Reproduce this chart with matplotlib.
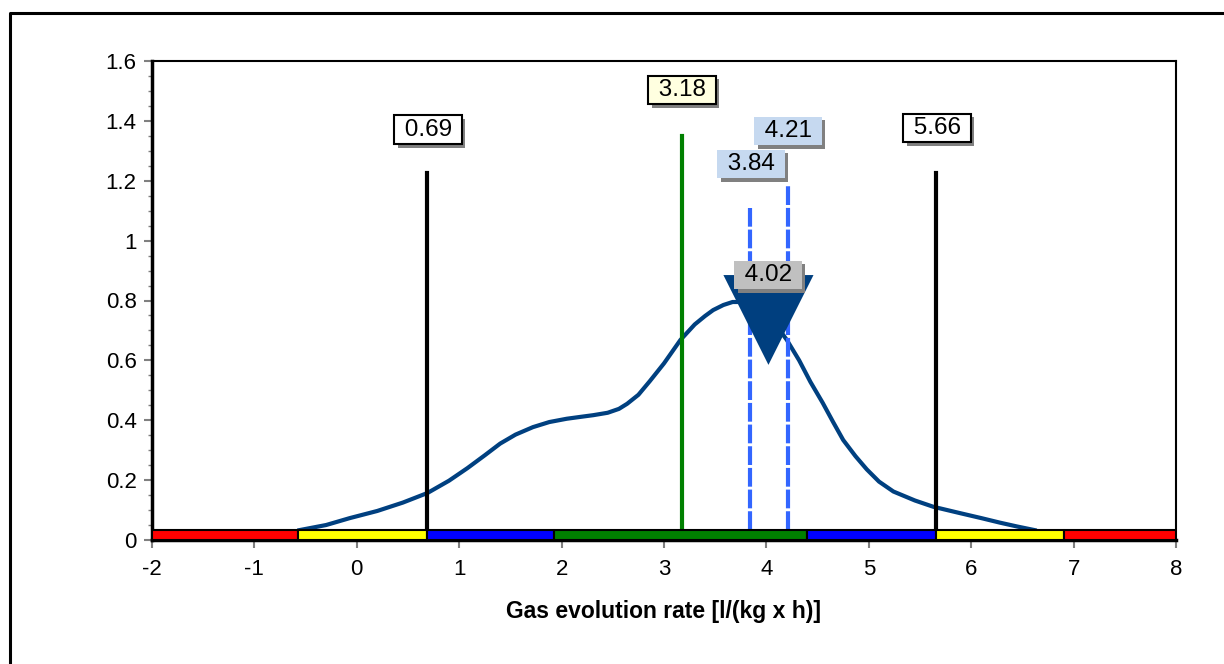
import matplotlib

matplotlib.use("Agg")
import matplotlib.pyplot as plt
from matplotlib import patheffects as pe
from matplotlib.lines import Line2D
from matplotlib.ticker import MultipleLocator

plt.rcParams["font.family"] = ["Liberation Sans", "DejaVu Sans"]
plt.rcParams["axes.unicode_minus"] = False

# density curve
curve_x = [-0.56, -0.3, -0.07, 0.2, 0.45, 0.69, 0.9, 1.08, 1.25, 1.40, 1.55,
           1.72, 1.88, 2.05, 2.2, 2.31, 2.45, 2.56, 2.64, 2.75, 2.86, 3.0,
           3.16, 3.3, 3.4, 3.48, 3.58, 3.67, 3.76, 3.85, 3.95, 4.08, 4.2,
           4.32, 4.43, 4.55, 4.65, 4.75, 4.87, 4.98, 5.1, 5.24, 5.45, 5.63,
           5.9, 6.1, 6.28, 6.45, 6.62]
curve_y = [0.033, 0.05, 0.073, 0.097, 0.125, 0.157, 0.198, 0.24, 0.283,
           0.322, 0.352, 0.377, 0.394, 0.405, 0.412, 0.417, 0.425, 0.438,
           0.455, 0.485, 0.53, 0.59, 0.668, 0.72, 0.748, 0.768, 0.785,
           0.795, 0.795, 0.787, 0.766, 0.725, 0.668, 0.6, 0.528, 0.458,
           0.395, 0.334, 0.28, 0.236, 0.195, 0.162, 0.132, 0.111, 0.089,
           0.073, 0.058, 0.045, 0.033]

# coloured range band along the x axis
band_edges = [-2.0, -0.57, 0.69, 1.93, 4.40, 5.66, 6.91, 8.0]
band_colors = ["#FF0000", "#FFFF00", "#0000FF", "#008000",
               "#0000FF", "#FFFF00", "#FF0000"]
band_height = 0.033

# vertical marker lines
limit_vals = [0.69, 5.66]
limit_tops = [1.226, 1.226]
mean_val = 3.18
mean_top = 1.35
ci_vals = [3.84, 4.21]
ci_tops = [1.11, 1.19]
median_val = 4.02

labels = [  # (text, x, y, face, edge)
    ("0.69", 0.695, 1.37, "white", "black"),
    ("5.66", 5.666, 1.376, "white", "black"),
    ("3.18", 3.176, 1.503, "#FFFFE0", "black"),
    ("4.21", 4.21, 1.366, "#C6D9F0", "none"),
    ("3.84", 3.85, 1.256, "#C6D9F0", "none"),
    ("4.02", 4.016, 0.885, "#C0C0C0", "none"),
]

fig = plt.figure(figsize=(12.24, 6.64), dpi=100)
ax = fig.add_axes([152 / 1224, 1 - 540 / 664, 1024 / 1224, 479 / 664])

# outer frame (left and top edges visible)
fig.add_artist(Line2D([10 / 1224, 10 / 1224, 1.0], [0.0, 1 - 13 / 664, 1 - 13 / 664],
                      transform=fig.transFigure, color="black", lw=2.2))

ax.plot(curve_x, curve_y, color="#004080", lw=3, zorder=3)

for x0, x1, c in zip(band_edges[:-1], band_edges[1:], band_colors):
    ax.fill_between([x0, x1], 0, band_height, facecolor=c, edgecolor="black",
                    lw=1.5, zorder=5)

for v, t in zip(limit_vals, limit_tops):
    ax.plot([v, v], [band_height, t], color="black", lw=3, zorder=4)
ax.plot([mean_val, mean_val], [band_height, mean_top], color="#008000", lw=3, zorder=4)
for v, t in zip(ci_vals, ci_tops):
    ax.plot([v, v], [band_height, t], color="#3366FF", lw=3,
            linestyle=(0, (4.5, 0.7)), zorder=4)

# median marker: inverted triangle
tri_half = 0.44
ax.fill([median_val - tri_half, median_val + tri_half, median_val],
        [0.885, 0.885, 0.585], color="#003F7F", zorder=6, lw=0)

for txt, x, y, face, edge in labels:
    t = ax.text(x, y, f" {txt} ", ha="center", va="center", fontsize=17.5,
                zorder=8,
                bbox=dict(boxstyle="square,pad=0.14", fc=face, ec=edge, lw=1.5))
    t.get_bbox_patch().set_path_effects(
        [pe.SimplePatchShadow(offset=(2.5, -2.5), shadow_rgbFace="#808080", alpha=1),
         pe.Normal()])

ax.set_xlim(-2, 8)
ax.set_ylim(0, 1.6)
ax.xaxis.set_major_locator(MultipleLocator(1))
ax.yaxis.set_minor_locator(MultipleLocator(0.05))
ax.set_yticks([0, 0.2, 0.4, 0.6, 0.8, 1.0, 1.2, 1.4, 1.6])
ax.set_yticklabels(["0", "0.2", "0.4", "0.6", "0.8", "1", "1.2", "1.4", "1.6"])
ax.tick_params(axis="both", which="major", labelsize=16, color="#808080",
               length=6, width=1.5, pad=5)
ax.tick_params(axis="x", which="major", pad=8)
ax.tick_params(axis="y", which="minor", color="#808080", length=3, width=1)
for side in ("left", "bottom"):
    ax.spines[side].set_linewidth(2.5)
for side in ("top", "right"):
    ax.spines[side].set_linewidth(1.5)
ax.set_xlabel("Gas evolution rate [l/(kg x h)]", fontsize=16.5, fontweight="bold",
              labelpad=14)

fig.savefig("out.png", dpi=100)
